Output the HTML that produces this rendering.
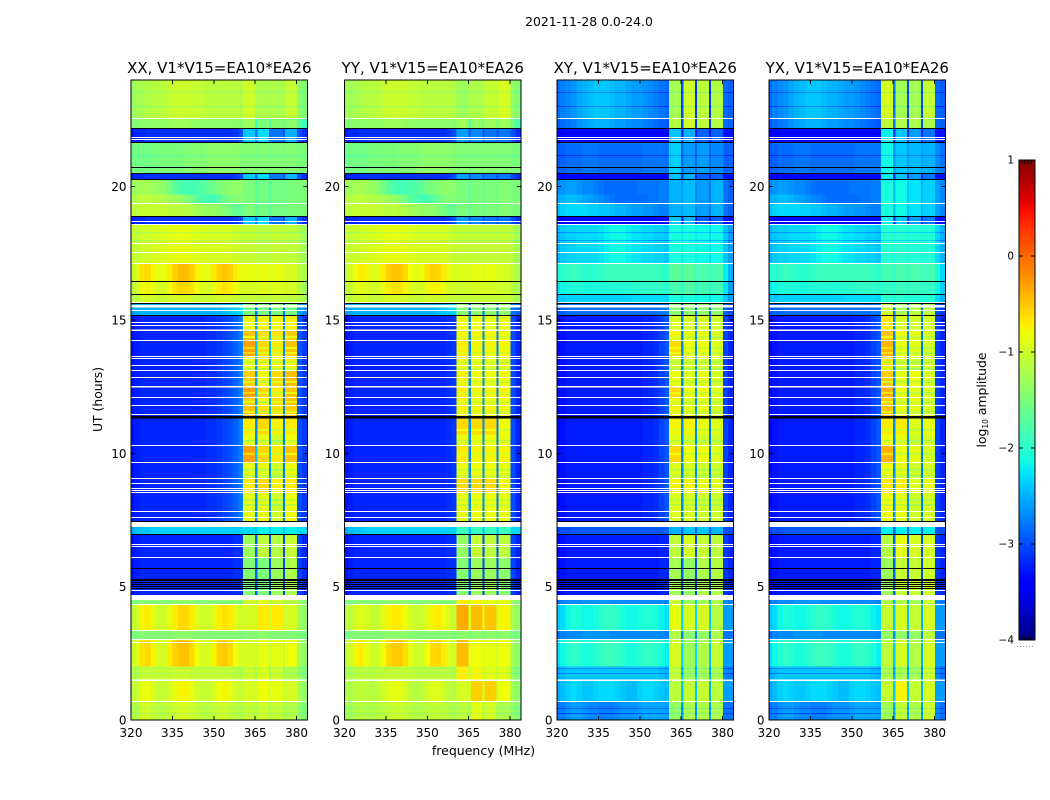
<!DOCTYPE html>
<html><head><meta charset="utf-8"><title>2021-11-28 0.0-24.0</title>
<style>html,body{margin:0;padding:0;background:#fff}svg{display:block}text{font-family:"DejaVu Sans","Liberation Sans",sans-serif;fill:#000}</style>
</head><body>
<svg id="fig" xmlns="http://www.w3.org/2000/svg" width="1050" height="800" viewBox="0 0 1050 800">
<rect width="1050" height="800" fill="#fff"/>
<text x="589" y="26" font-size="12.4" text-anchor="middle">2021-11-28 0.0-24.0</text>
<text x="483.500" y="755" font-size="12.5" text-anchor="middle">frequency (MHz)</text>
<text transform="translate(102,399.500) rotate(-90)" font-size="12.4" text-anchor="middle">UT (hours)</text>
<text transform="translate(986,400) rotate(-90)" font-size="12.4" text-anchor="middle">log<tspan font-size="7.500" dy="2">10</tspan><tspan dy="-2"> amplitude</tspan></text>
<g id="plots"></g>
<g id="cbar"></g>
</svg>
<script>
// ---- axis tick labels ----
const freqTicks = [320, 335, 350, 365, 380];
const hourTicks = [0, 5, 10, 15, 20];
const colorbarTicks = [1, 0, -1, -2, -3, -4];

// ---- frequency cell edges (MHz) ----
const lowFreqEdges = [320,321,323,325,327,329,331,333,335,337,339,341,343,345,347,349,351,353,355,357,359,360.6];
const highFreqEdges = [360.6,365,365.8,370.1,370.8,375.1,375.8,380.1,382,384];

// ---- time cell edges (hours) and which spectrum each band uses ----
const bandEdges = [24,22.55,22.18,21.67,20.72,20.5,20.28,19.7,19.36,18.89,18.6,17.12,16.45,15.96,15.66,15.17,14.62,14.24,13.62,13.09,12.5,12.1,11.79,11.35,10.7,10.28,9.66,9.05,8.52,7.83,7.24,6.97,6.09,4.5,4.34,3.36,3.01,2,1.5,0.7,0];
const bandLow  = [0,1,2,3,3,2,4,5,6,2,7,8,9,10,11,12,12,12,12,12,12,12,12,12,12,12,12,12,12,12,14,13,13,19,15,19,16,20,17,18];
const bandHigh = [0,1,2,3,3,2,4,4,4,2,5,6,7,5,8,9,10,11,9,12,11,12,10,13,14,11,14,13,14,14,15,16,17,20,18,21,19,20,22,23];

// ---- spectra below 360.6 MHz, log10 amplitude, co-polar (XX) ----
const xxLow = [
[-1.32,-1.27,-1.22,-1.17,-1.17,-1.12,-1.12,-1.07,-1.02,-1.02,-1.02,-1.02,-1.07,-1.07,-1.12,-1.12,-1.12,-1.12,-1.12,-1.12,-1.17],
[-1.45,-1.45,-1.4,-1.4,-1.4,-1.35,-1.35,-1.35,-1.3,-1.3,-1.3,-1.35,-1.35,-1.4,-1.4,-1.4,-1.4,-1.4,-1.4,-1.4,-1.45],
[-3.25,-3.2,-3.2,-3.15,-3.15,-3.15,-3.15,-3.15,-3.15,-3.15,-3.15,-3.15,-3.15,-3.15,-3.15,-3.15,-3.15,-3.15,-3.15,-3.1,-3.0],
[-1.6,-1.55,-1.55,-1.55,-1.55,-1.5,-1.5,-1.5,-1.5,-1.5,-1.45,-1.45,-1.45,-1.45,-1.4,-1.4,-1.4,-1.4,-1.4,-1.4,-1.45],
[-1.35,-1.3,-1.25,-1.25,-1.3,-1.35,-1.4,-1.55,-1.7,-1.8,-1.85,-1.85,-1.8,-1.75,-1.65,-1.55,-1.5,-1.45,-1.4,-1.4,-1.4],
[-1.2,-1.15,-1.1,-1.1,-1.15,-1.15,-1.2,-1.25,-1.3,-1.35,-1.45,-1.55,-1.7,-1.8,-1.85,-1.85,-1.75,-1.6,-1.5,-1.45,-1.45],
[-1.15,-1.1,-1.05,-1.05,-1.05,-1.05,-1.05,-1.1,-1.1,-1.1,-1.15,-1.2,-1.25,-1.3,-1.35,-1.35,-1.4,-1.45,-1.55,-1.65,-1.65],
[-1.1,-1.05,-1,-1,-0.95,-0.95,-0.9,-0.9,-0.85,-0.85,-0.85,-0.9,-0.9,-0.95,-0.95,-0.95,-0.95,-0.95,-0.95,-1,-1.05],
[-1.1,-0.9,-0.65,-0.6,-0.75,-0.85,-0.85,-0.7,-0.55,-0.45,-0.45,-0.55,-0.7,-0.85,-0.85,-0.7,-0.55,-0.5,-0.55,-0.7,-0.85],
[-1.15,-1,-0.8,-0.75,-0.85,-0.95,-0.95,-0.8,-0.65,-0.6,-0.6,-0.65,-0.8,-0.9,-0.95,-0.85,-0.7,-0.65,-0.7,-0.8,-0.95],
[-1.15,-1.1,-1,-0.95,-1,-1.05,-1.05,-1,-0.95,-0.95,-0.95,-1,-1.05,-1.05,-1.05,-1,-1,-1,-1,-1.05,-1.1],
[-2.6,-2.55,-2.5,-2.5,-2.5,-2.5,-2.5,-2.5,-2.5,-2.5,-2.5,-2.5,-2.5,-2.5,-2.5,-2.5,-2.5,-2.45,-2.4,-2.35,-2.3],
[-3.3,-3.25,-3.2,-3.2,-3.2,-3.2,-3.2,-3.2,-3.2,-3.2,-3.2,-3.2,-3.2,-3.2,-3.15,-3.15,-3.1,-3.05,-3,-2.9,-2.75],
[-3.3,-3.25,-3.2,-3.2,-3.2,-3.2,-3.2,-3.2,-3.2,-3.2,-3.2,-3.2,-3.2,-3.2,-3.2,-3.2,-3.2,-3.2,-3.2,-3.15,-3.15],
[-2.55,-2.45,-2.4,-2.4,-2.35,-2.35,-2.35,-2.35,-2.35,-2.35,-2.35,-2.35,-2.35,-2.35,-2.35,-2.35,-2.35,-2.35,-2.35,-2.35,-2.35],
[-1.15,-1,-0.75,-0.7,-0.85,-1,-1,-0.85,-0.7,-0.6,-0.6,-0.7,-0.9,-1,-1,-0.9,-0.7,-0.65,-0.7,-0.9,-1],
[-1.1,-0.9,-0.65,-0.6,-0.75,-0.95,-0.95,-0.7,-0.55,-0.48,-0.48,-0.6,-0.8,-0.95,-0.95,-0.75,-0.55,-0.52,-0.6,-0.8,-0.95],
[-1.15,-1.05,-0.85,-0.8,-0.95,-1.05,-1.05,-0.95,-0.85,-0.75,-0.75,-0.85,-1,-1.05,-1.05,-0.95,-0.8,-0.75,-0.85,-1,-1.05],
[-1.2,-1.15,-1,-0.95,-1.05,-1.1,-1.1,-1.05,-1,-0.95,-0.95,-1,-1.05,-1.1,-1.1,-1.05,-1,-1,-1.05,-1.1,-1.15],
[-1.55,-1.5,-1.45,-1.45,-1.45,-1.45,-1.45,-1.45,-1.4,-1.4,-1.4,-1.4,-1.45,-1.45,-1.45,-1.45,-1.45,-1.45,-1.45,-1.45,-1.5],
[-1.2,-1.15,-1.05,-1.05,-1.05,-1.05,-1.05,-1.05,-1,-1,-1,-1.05,-1.05,-1.05,-1.05,-1.05,-1.05,-1.05,-1.05,-1.1,-1.15]
];

// ---- spectra below 360.6 MHz, co-polar (YY) ----
const yyLow = [
[-1.32,-1.27,-1.22,-1.17,-1.17,-1.12,-1.12,-1.07,-1.02,-1.02,-1.02,-1.02,-1.07,-1.07,-1.12,-1.12,-1.12,-1.12,-1.12,-1.12,-1.17],
[-1.45,-1.45,-1.4,-1.4,-1.4,-1.35,-1.35,-1.35,-1.3,-1.3,-1.3,-1.35,-1.35,-1.4,-1.4,-1.4,-1.4,-1.4,-1.4,-1.4,-1.45],
[-3.25,-3.2,-3.2,-3.15,-3.15,-3.15,-3.15,-3.15,-3.15,-3.15,-3.15,-3.15,-3.15,-3.15,-3.15,-3.15,-3.15,-3.15,-3.15,-3.1,-3.0],
[-1.6,-1.55,-1.55,-1.55,-1.55,-1.5,-1.5,-1.5,-1.5,-1.5,-1.45,-1.45,-1.45,-1.45,-1.4,-1.4,-1.4,-1.4,-1.4,-1.4,-1.45],
[-1.35,-1.3,-1.25,-1.25,-1.3,-1.35,-1.4,-1.55,-1.7,-1.8,-1.85,-1.85,-1.8,-1.75,-1.65,-1.55,-1.5,-1.45,-1.4,-1.4,-1.4],
[-1.2,-1.15,-1.1,-1.1,-1.15,-1.15,-1.2,-1.25,-1.3,-1.35,-1.45,-1.55,-1.7,-1.8,-1.85,-1.85,-1.75,-1.6,-1.5,-1.45,-1.45],
[-1.15,-1.1,-1.05,-1.05,-1.05,-1.05,-1.05,-1.1,-1.1,-1.1,-1.15,-1.2,-1.25,-1.3,-1.35,-1.35,-1.4,-1.45,-1.55,-1.65,-1.65],
[-1.1,-1.05,-1,-1,-0.95,-0.95,-0.9,-0.9,-0.85,-0.85,-0.85,-0.9,-0.9,-0.95,-0.95,-0.95,-0.95,-0.95,-0.95,-1,-1.05],
[-1.15,-0.95,-0.8,-0.7,-0.75,-0.9,-0.85,-0.7,-0.55,-0.5,-0.5,-0.6,-0.8,-0.85,-0.8,-0.65,-0.55,-0.6,-0.7,-0.85,-0.95],
[-1.15,-1.05,-0.9,-0.85,-0.9,-1,-0.95,-0.85,-0.7,-0.65,-0.65,-0.75,-0.9,-0.95,-0.95,-0.85,-0.75,-0.75,-0.85,-0.95,-1],
[-1.15,-1.1,-1,-1,-1,-1.05,-1.05,-1,-0.95,-0.95,-0.95,-1,-1.05,-1.05,-1.05,-1,-1,-1,-1,-1.05,-1.1],
[-2.6,-2.55,-2.5,-2.5,-2.5,-2.5,-2.5,-2.5,-2.5,-2.5,-2.5,-2.5,-2.5,-2.5,-2.5,-2.5,-2.5,-2.45,-2.4,-2.35,-2.3],
[-3.3,-3.25,-3.2,-3.2,-3.2,-3.2,-3.2,-3.2,-3.2,-3.2,-3.2,-3.2,-3.2,-3.2,-3.2,-3.2,-3.2,-3.2,-3.2,-3.15,-3.1],
[-3.3,-3.25,-3.2,-3.2,-3.2,-3.2,-3.2,-3.2,-3.2,-3.2,-3.2,-3.2,-3.2,-3.2,-3.2,-3.2,-3.2,-3.2,-3.2,-3.15,-3.15],
[-2.55,-2.45,-2.4,-2.4,-2.35,-2.35,-2.35,-2.35,-2.35,-2.35,-2.35,-2.35,-2.35,-2.35,-2.35,-2.35,-2.35,-2.35,-2.35,-2.35,-2.35],
[-1.2,-1.1,-0.95,-0.9,-0.95,-1.05,-1.05,-0.9,-0.75,-0.7,-0.7,-0.8,-0.95,-1.05,-1,-0.9,-0.75,-0.7,-0.8,-0.95,-1.05],
[-1.15,-1,-0.75,-0.7,-0.85,-1,-1,-0.8,-0.6,-0.52,-0.52,-0.62,-0.85,-1,-1,-0.8,-0.6,-0.58,-0.7,-0.9,-1],
[-1.25,-1.2,-1.1,-1.1,-1.1,-1.15,-1.1,-1,-0.9,-0.85,-0.85,-0.95,-1.1,-1.15,-1.1,-1,-0.9,-0.9,-1,-1.1,-1.15],
[-1.3,-1.25,-1.15,-1.15,-1.15,-1.15,-1.15,-1.1,-1.05,-1,-1,-1.05,-1.1,-1.15,-1.15,-1.1,-1.05,-1.05,-1.1,-1.15,-1.2],
[-1.55,-1.5,-1.45,-1.45,-1.45,-1.45,-1.45,-1.45,-1.4,-1.4,-1.4,-1.4,-1.45,-1.45,-1.45,-1.45,-1.45,-1.45,-1.45,-1.45,-1.5],
[-1.25,-1.2,-1.1,-1.1,-1.1,-1.1,-1.1,-1.05,-1.05,-1.05,-1.05,-1.05,-1.05,-1.1,-1.1,-1.1,-1.1,-1.1,-1.1,-1.1,-1.15]
];

// ---- spectra below 360.6 MHz, cross-polar (XY and YX) ----
const crossLow = [
[-2.85,-2.75,-2.7,-2.65,-2.55,-2.5,-2.45,-2.4,-2.4,-2.4,-2.45,-2.5,-2.5,-2.55,-2.6,-2.6,-2.65,-2.7,-2.75,-2.8,-2.85],
[-2.95,-2.85,-2.8,-2.75,-2.65,-2.6,-2.55,-2.5,-2.5,-2.5,-2.55,-2.6,-2.6,-2.65,-2.7,-2.7,-2.75,-2.8,-2.85,-2.9,-2.95],
[-3.45,-3.4,-3.35,-3.35,-3.35,-3.35,-3.35,-3.35,-3.35,-3.35,-3.35,-3.35,-3.35,-3.35,-3.35,-3.35,-3.35,-3.35,-3.35,-3.35,-3.35],
[-2.95,-2.9,-2.85,-2.85,-2.85,-2.8,-2.8,-2.8,-2.85,-2.85,-2.85,-2.85,-2.85,-2.85,-2.85,-2.85,-2.8,-2.8,-2.8,-2.8,-2.8],
[-2.7,-2.65,-2.6,-2.6,-2.65,-2.7,-2.7,-2.75,-2.8,-2.85,-2.85,-2.85,-2.85,-2.85,-2.85,-2.8,-2.8,-2.8,-2.8,-2.75,-2.75],
[-2.55,-2.5,-2.45,-2.45,-2.5,-2.55,-2.6,-2.65,-2.7,-2.75,-2.8,-2.85,-2.85,-2.85,-2.85,-2.85,-2.85,-2.8,-2.8,-2.75,-2.75],
[-2.45,-2.35,-2.3,-2.3,-2.3,-2.3,-2.35,-2.35,-2.4,-2.4,-2.45,-2.5,-2.5,-2.55,-2.6,-2.6,-2.65,-2.65,-2.7,-2.75,-2.75],
[-2.5,-2.4,-2.35,-2.35,-2.3,-2.3,-2.3,-2.3,-2.25,-2.2,-2.15,-2.15,-2.15,-2.2,-2.25,-2.25,-2.3,-2.3,-2.35,-2.35,-2.4],
[-2.1,-2,-1.95,-1.9,-1.95,-2,-2,-2,-1.95,-1.9,-1.9,-1.9,-1.9,-1.9,-1.9,-1.9,-1.9,-1.9,-1.9,-1.95,-2],
[-2.25,-2.15,-2.1,-2.05,-2.05,-2.1,-2.1,-2.1,-2.05,-2.05,-2.05,-2.05,-2.05,-2.05,-2,-2,-1.95,-1.95,-1.95,-1.95,-2],
[-2.45,-2.4,-2.35,-2.35,-2.35,-2.35,-2.35,-2.35,-2.35,-2.35,-2.35,-2.35,-2.35,-2.35,-2.3,-2.3,-2.3,-2.3,-2.3,-2.3,-2.35],
[-2.95,-2.9,-2.85,-2.85,-2.85,-2.85,-2.85,-2.85,-2.85,-2.85,-2.85,-2.85,-2.85,-2.85,-2.85,-2.85,-2.85,-2.85,-2.85,-2.8,-2.8],
[-3.35,-3.3,-3.25,-3.25,-3.25,-3.25,-3.25,-3.25,-3.25,-3.25,-3.25,-3.25,-3.25,-3.25,-3.25,-3.25,-3.2,-3.2,-3.15,-3.05,-2.95],
[-3.35,-3.3,-3.25,-3.25,-3.25,-3.25,-3.25,-3.25,-3.25,-3.25,-3.25,-3.25,-3.25,-3.25,-3.25,-3.25,-3.25,-3.25,-3.25,-3.2,-3.2],
[-3.05,-3,-3,-2.95,-2.95,-2.95,-2.95,-2.95,-2.95,-2.95,-2.95,-2.95,-2.95,-2.95,-2.95,-2.95,-2.95,-2.95,-2.95,-2.95,-2.9],
[-2.4,-2.3,-2.15,-2.05,-2.1,-2.15,-2.15,-2.1,-2,-1.95,-1.95,-2,-2.1,-2.15,-2.15,-2.1,-2.05,-2.05,-2.1,-2.2,-2.25],
[-2.3,-2.15,-2.05,-1.95,-2,-2.1,-2.1,-2,-1.95,-1.9,-1.9,-1.95,-2,-2.1,-2.1,-2,-1.95,-1.95,-2,-2.1,-2.2],
[-2.55,-2.45,-2.35,-2.3,-2.35,-2.4,-2.4,-2.35,-2.3,-2.3,-2.3,-2.35,-2.4,-2.45,-2.45,-2.35,-2.3,-2.3,-2.35,-2.4,-2.45],
[-2.8,-2.75,-2.65,-2.6,-2.6,-2.65,-2.7,-2.7,-2.75,-2.75,-2.75,-2.7,-2.65,-2.65,-2.65,-2.6,-2.55,-2.55,-2.55,-2.55,-2.6],
[-2.85,-2.75,-2.7,-2.7,-2.7,-2.65,-2.65,-2.65,-2.65,-2.65,-2.7,-2.7,-2.7,-2.7,-2.7,-2.7,-2.7,-2.7,-2.7,-2.7,-2.75],
[-2.55,-2.45,-2.4,-2.4,-2.4,-2.4,-2.4,-2.4,-2.4,-2.4,-2.4,-2.4,-2.4,-2.4,-2.4,-2.4,-2.4,-2.4,-2.4,-2.45,-2.5]
];

// ---- spectra above 360.6 MHz: four sub-bands, three gaps, two edge columns ----
const xxHigh = [
[-1,-1.2,-1.2,-1.25,-1.2,-1.25,-1.05,-1.4,-1.45],
[-1.3,-1.9,-1.5,-1.7,-1.45,-1.6,-1.4,-1.7,-1.9],
[-2.4,-2.8,-2.3,-2.9,-2.8,-3,-2.5,-3,-3.15],
[-1.45,-1.5,-1.45,-1.5,-1.45,-1.5,-1.45,-1.5,-1.5],
[-1.5,-1.7,-1.55,-1.7,-1.55,-1.6,-1.5,-1.5,-1.5],
[-1.05,-1.1,-1.1,-1.1,-1.05,-1.1,-1.1,-1.15,-1.25],
[-0.85,-0.9,-0.85,-0.9,-0.85,-0.9,-0.95,-1.1,-1.2],
[-0.95,-1,-0.9,-1,-0.9,-1,-0.95,-1.15,-1.25],
[-1.5,-2.8,-1.5,-2.8,-1.5,-2.8,-1.5,-2.6,-2.7],
[-0.8,-2.6,-0.75,-2.6,-0.75,-2.7,-0.75,-2.95,-3.1],
[-0.5,-2.5,-0.65,-2.5,-0.65,-2.7,-0.55,-2.95,-3.1],
[-0.3,-2.4,-0.6,-2.5,-0.7,-2.7,-0.5,-2.95,-3.1],
[-0.55,-2.6,-0.8,-2.6,-0.6,-2.7,-0.45,-2.95,-3.1],
[-0.7,-2.7,-0.6,-2.7,-0.75,-2.8,-0.7,-3,-3.1],
[-0.85,-2.7,-0.85,-2.7,-1,-2.8,-0.8,-3,-3.1],
[-2.3,-2.4,-2.2,-2.4,-2.2,-2.4,-2.2,-2.3,-2.3],
[-1.3,-2.9,-1.1,-3,-1.15,-3,-1.05,-3.05,-3.2],
[-1.45,-2.9,-1.5,-3,-1.3,-3,-1.2,-3.05,-3.2],
[-0.95,-1,-0.7,-1,-0.7,-1.1,-0.95,-1.3,-1.35],
[-0.95,-1.05,-0.85,-1,-0.85,-1.1,-0.8,-1.25,-1.35],
[-1,-1.15,-0.9,-1.2,-1,-1.25,-1.15,-1.35,-1.45],
[-1.45,-1.5,-1.4,-1.5,-1.45,-1.5,-1.45,-1.5,-1.55],
[-0.95,-1.05,-0.8,-1,-0.85,-1.1,-0.95,-1.25,-1.35],
[-1.05,-1.15,-1,-1.2,-1.05,-1.25,-1.15,-1.35,-1.45]
];
const yyHigh = [
[-1.3,-1.2,-1.2,-1.2,-1.05,-1.1,-0.95,-1.35,-1.45],
[-1.3,-1.7,-1.35,-1.6,-1.3,-1.6,-1.3,-1.6,-1.8],
[-2.6,-2.9,-2.7,-3,-2.8,-3,-2.8,-3,-3.15],
[-1.45,-1.5,-1.45,-1.5,-1.45,-1.5,-1.45,-1.5,-1.5],
[-1.5,-1.65,-1.5,-1.65,-1.5,-1.6,-1.45,-1.5,-1.5],
[-1.05,-1.1,-1.05,-1.1,-1.05,-1.1,-1.05,-1.15,-1.25],
[-0.9,-0.95,-0.85,-0.95,-0.85,-0.95,-0.95,-1.1,-1.2],
[-1,-1,-0.95,-1,-0.95,-1,-1,-1.15,-1.25],
[-1.4,-2.8,-1.4,-2.8,-1.4,-2.8,-1.4,-2.8,-2.9],
[-0.8,-2.7,-0.8,-2.7,-0.85,-2.8,-0.85,-3,-3.2],
[-0.75,-2.7,-0.75,-2.7,-0.75,-2.8,-0.8,-3,-3.2],
[-0.7,-2.7,-0.75,-2.7,-0.75,-2.8,-0.75,-3,-3.2],
[-0.75,-2.7,-0.8,-2.7,-0.8,-2.8,-0.8,-3,-3.2],
[-0.6,-2.7,-0.6,-2.7,-0.6,-2.8,-0.8,-3,-3.2],
[-0.85,-2.7,-0.8,-2.7,-0.8,-2.8,-0.85,-3,-3.2],
[-1.9,-2.4,-1.9,-2.4,-1.9,-2.4,-1.9,-2.3,-2.3],
[-1.35,-2.9,-1.05,-3,-1.1,-3,-1.1,-3.05,-3.2],
[-1.45,-2.9,-1.3,-3,-1.3,-3,-1.4,-3.05,-3.2],
[-0.35,-0.9,-0.45,-0.9,-0.5,-1,-0.75,-1.25,-1.35],
[-0.45,-0.9,-0.8,-0.9,-0.85,-1,-0.8,-1.3,-1.4],
[-0.7,-1,-0.75,-1,-0.85,-1.05,-0.85,-1.35,-1.45],
[-1.4,-1.5,-1.4,-1.5,-1.4,-1.5,-1.4,-1.5,-1.55],
[-0.95,-1,-0.55,-1,-0.55,-1.05,-0.8,-1.3,-1.4],
[-1.1,-1.2,-0.85,-1.2,-0.95,-1.3,-1.2,-1.35,-1.45]
];
const xyHigh = [
[-1.25,-3,-1,-3.1,-1.1,-3.1,-1.15,-2.85,-2.9],
[-1.15,-3,-1,-3.1,-1.1,-3.1,-1.15,-2.85,-2.9],
[-2.4,-3.2,-2.5,-3.3,-2.9,-3.3,-2.9,-3.3,-3.3],
[-2.35,-2.9,-2.6,-2.9,-2.6,-2.9,-2.7,-2.9,-2.9],
[-2.5,-2.6,-2.45,-2.7,-2.6,-2.8,-2.5,-2.8,-2.9],
[-2.1,-2.2,-2.1,-2.2,-2.15,-2.3,-2.15,-2.4,-2.6],
[-1.7,-1.9,-1.7,-1.9,-1.8,-1.9,-1.8,-2.2,-2.5],
[-1.8,-2,-1.75,-2,-1.85,-2,-1.85,-2.25,-2.6],
[-1.4,-2.9,-1.4,-2.9,-1.4,-2.9,-1.4,-2.9,-3],
[-0.95,-2.7,-0.95,-2.7,-0.95,-2.8,-1,-3.05,-3.2],
[-0.75,-2.7,-0.85,-2.7,-0.85,-2.8,-0.95,-3.05,-3.2],
[-0.6,-2.7,-0.8,-2.7,-0.8,-2.8,-0.9,-3.05,-3.2],
[-0.8,-2.7,-0.9,-2.7,-0.85,-2.8,-0.95,-3.05,-3.2],
[-0.75,-2.7,-0.75,-2.7,-0.85,-2.8,-0.9,-3.05,-3.2],
[-0.9,-2.7,-0.95,-2.7,-1,-2.8,-1,-3.05,-3.2],
[-2.5,-2.9,-2.4,-2.9,-2.4,-2.9,-2.5,-3,-3],
[-1.1,-2.9,-0.95,-3,-1.05,-3,-1.1,-3.1,-3.2],
[-1.25,-2.9,-1.35,-3,-1.2,-3,-1.15,-3.1,-3.2],
[-0.85,-2.3,-0.95,-2.3,-0.95,-2.4,-1.15,-2.6,-2.6],
[-0.95,-2.3,-1.3,-2.3,-1.2,-2.4,-1.05,-2.6,-2.6],
[-1.05,-2.4,-1.3,-2.4,-1.25,-2.5,-1.2,-2.7,-2.75],
[-1.2,-2.7,-1.4,-2.7,-1.35,-2.7,-1.2,-2.8,-2.8],
[-1.1,-2.4,-1.05,-2.4,-1.05,-2.5,-1.1,-2.6,-2.6],
[-1.35,-2.6,-1.2,-2.6,-1.2,-2.6,-1.2,-2.8,-2.8]
];
const yxHigh = [
[-0.95,-2.8,-1.25,-3,-1.25,-3,-1.05,-2.85,-2.9],
[-1.1,-2.8,-1.2,-3,-1.2,-3,-1.2,-2.85,-2.9],
[-2.2,-3.1,-2.4,-3.2,-2.6,-3.2,-2.8,-3.3,-3.3],
[-2.15,-2.6,-2.4,-2.6,-2.45,-2.6,-2.5,-2.7,-2.8],
[-2.1,-2.4,-2.15,-2.4,-2.25,-2.5,-2.35,-2.6,-2.7],
[-2,-2.1,-2,-2.1,-2.05,-2.1,-2.05,-2.3,-2.5],
[-1.85,-1.95,-1.8,-1.95,-1.8,-1.95,-1.85,-2.1,-2.3],
[-1.95,-2,-1.9,-2,-1.9,-2,-1.95,-2.15,-2.35],
[-1,-2.8,-1.2,-2.8,-1.15,-2.8,-1.1,-3,-3.1],
[-0.7,-2.7,-0.95,-2.7,-1,-2.8,-0.95,-3.05,-3.2],
[-0.5,-2.7,-0.8,-2.7,-0.85,-2.8,-0.95,-3.05,-3.2],
[-0.4,-2.7,-0.8,-2.7,-0.85,-2.8,-0.95,-3.05,-3.2],
[-0.55,-2.7,-0.85,-2.7,-0.8,-2.8,-0.95,-3.05,-3.2],
[-0.7,-2.7,-0.7,-2.7,-0.9,-2.8,-0.85,-3.05,-3.2],
[-0.8,-2.7,-0.85,-2.7,-1,-2.8,-0.95,-3.05,-3.2],
[-2.2,-2.9,-2.2,-2.9,-2.2,-2.9,-2.2,-3,-3],
[-1.15,-2.9,-0.85,-3,-0.95,-3,-0.95,-3.1,-3.2],
[-1.3,-2.9,-1.05,-3,-1.05,-3,-1,-3.1,-3.2],
[-1.05,-2.4,-0.95,-2.4,-1.05,-2.5,-0.95,-2.6,-2.6],
[-1.1,-2.4,-0.95,-2.4,-1.15,-2.5,-0.95,-2.6,-2.6],
[-1.2,-2.5,-1.2,-2.5,-1.25,-2.6,-1,-2.7,-2.8],
[-1.35,-2.7,-1.35,-2.7,-1.35,-2.7,-1.1,-2.8,-2.8],
[-1.05,-2.4,-0.75,-2.4,-1.05,-2.5,-0.95,-2.6,-2.6],
[-1.25,-2.5,-1.05,-2.5,-1.2,-2.6,-1,-2.7,-2.8]
];

// ---- thin rows that read weaker than their neighbours (hours) ----
const dimRowHours = [23.55,23.02,21.2,18.3,18,1.95,1.76,0.45,0.26];
const brightStripeHours = [14.4,14,13.8,13.45,13.2,12.7,12.3,11.95,11.6,10.9,10.5,10,9.4,9.2,8.3,8.1];
const dimRowDelta = [-0.25,-0.25,-0.3,-0.3];
const brightStripeDelta = [-0.3,-0.2,-0.22,-0.25];

// ---- flagged time ranges (hours) ----
const whiteRows = [22.55,21.86,21.77,19.36,18.68,18.6,17.87,17.54,17.12,15.66,15.35,14.89,14.81,14.24,13.62,13.55,13.3,13.09,12.85,12.1,11.79,11.45,10.28,9.66,9.05,8.86,8.67,8.6,8.52,7.83,7.59,6.57,6.49,6.09,4.86,4.34,3.01,2.92,0.7];
const whiteBandStart = [15.56,14.65,12.53,7.42,4.68,3.38,1.52];
const whiteBandEnd = [15.46,14.59,12.46,7.24,4.5,3.33,1.47];
const blackRows = [22.18,21.67,20.72,20.5,20.28,18.89,16.45,15.96,15.61,15.17,7.46,6.97,5.69,5.27,5.22,5.15,5.09,4.99,4.94];
const blackBandStart = [11.4];
const blackBandEnd = [11.31];

// ---- colour map and axis functions ----
const NS = 'http://www.w3.org/2000/svg';
const VMIN = -4, VMAX = 1;
const AX_TOP = 80, AX_BOTTOM = 720, AX_W = 176.6;
const plots = document.getElementById('plots');
const cbar = document.getElementById('cbar');

function interp(t, pts) {
  if (t <= pts[0][0]) return pts[0][1];
  for (let i = 1; i < pts.length; i++) {
    if (t <= pts[i][0]) {
      const a = pts[i - 1], b = pts[i];
      return a[1] + (b[1] - a[1]) * (t - a[0]) / (b[0] - a[0]);
    }
  }
  return pts[pts.length - 1][1];
}
function jet(v) {
  const t = Math.max(0, Math.min(1, (v - VMIN) / (VMAX - VMIN)));
  const r = interp(t, [[0.35, 0], [0.66, 1], [0.89, 1], [1, 0.5]]);
  const g = interp(t, [[0.125, 0], [0.375, 1], [0.64, 1], [0.91, 0]]);
  const b = interp(t, [[0, 0.5], [0.11, 1], [0.34, 1], [0.65, 0]]);
  return 'rgb(' + Math.round(r * 255) + ',' + Math.round(g * 255) + ',' + Math.round(b * 255) + ')';
}
function hourY(h) { return AX_BOTTOM - h * (AX_BOTTOM - AX_TOP) / 24; }
function freqX(left, f) { return left + (f - 320) * AX_W / 64; }
function cbarY(v) { return 640 - (v - VMIN) * 96; }
function makeRect(parent, x, y, w, h, fill) {
  const el = document.createElementNS(NS, 'rect');
  el.setAttribute('x', x);
  el.setAttribute('y', y);
  el.setAttribute('width', w);
  el.setAttribute('height', h);
  el.setAttribute('fill', fill);
  el.setAttribute('shape-rendering', 'crispEdges');
  parent.appendChild(el);
  return el;
}
function makeLine(parent, x1, y1, x2, y2) {
  const el = document.createElementNS(NS, 'line');
  el.setAttribute('x1', x1);
  el.setAttribute('y1', y1);
  el.setAttribute('x2', x2);
  el.setAttribute('y2', y2);
  el.setAttribute('stroke', '#000');
  el.setAttribute('stroke-width', 1);
  el.setAttribute('shape-rendering', 'crispEdges');
  parent.appendChild(el);
  return el;
}
function makeText(parent, x, y, str, anchor, size) {
  const el = document.createElementNS(NS, 'text');
  el.setAttribute('x', x);
  el.setAttribute('y', y);
  el.setAttribute('text-anchor', anchor);
  el.setAttribute('font-size', size);
  el.textContent = str;
  parent.appendChild(el);
  return el;
}

const panelLeft = [131, 344.5, 557, 769];
const panelName = ['xx', 'yy', 'xy', 'yx'];
const panelTitle = ['XX, V1*V15=EA10*EA26', 'YY, V1*V15=EA10*EA26', 'XY, V1*V15=EA10*EA26', 'YX, V1*V15=EA10*EA26'];
const panelLow = [xxLow, yyLow, crossLow, crossLow];
const panelHigh = [xxHigh, yyHigh, xyHigh, yxHigh];

function spectrumAt(p, band) {
  return panelLow[p][bandLow[band]].concat(panelHigh[p][bandHigh[band]]);
}
function bandAtHour(h) {
  for (let b = 0; b < bandEdges.length - 1; b++) {
    if (h <= bandEdges[b] && h > bandEdges[b + 1]) return b;
  }
  return bandEdges.length - 2;
}

function drawPanel(p) {
  const left = panelLeft[p];
  const g = document.createElementNS(NS, 'g');
  
  
  plots.appendChild(g);
  const edges = lowFreqEdges.concat(highFreqEdges.slice(1));

  // heatmap cells
  for (let b = 0; b < bandEdges.length - 1; b++) {
    const spec = spectrumAt(p, b);
    const y0 = hourY(bandEdges[b]), y1 = hourY(bandEdges[b + 1]);
    for (let c = 0; c < edges.length - 1; c++) {
      const x0 = freqX(left, edges[c]), x1 = freqX(left, edges[c + 1]);
      const el = makeRect(g, x0, y0, x1 - x0, y1 - y0, jet(spec[c]));
      
      
    }
  }
  // dim rows across every frequency
  dimRowHours.forEach(function (h) {
    const spec = spectrumAt(p, bandAtHour(h));
    for (let c = 0; c < edges.length - 1; c++) {
      const x0 = freqX(left, edges[c]), x1 = freqX(left, edges[c + 1]);
      const el = makeRect(g, x0, Math.round(hourY(h)), x1 - x0, 1, jet(spec[c] + dimRowDelta[p]));
      
      
    }
  });
  // stripes in the four bright sub-bands
  brightStripeHours.forEach(function (h) {
    const spec = spectrumAt(p, bandAtHour(h));
    const low = lowFreqEdges.length - 1;
    [0, 2, 4, 6].forEach(function (k) {
      const x0 = freqX(left, highFreqEdges[k]), x1 = freqX(left, highFreqEdges[k + 1]);
      const el = makeRect(g, x0, Math.round(hourY(h)), x1 - x0, 2, jet(spec[low + k] + brightStripeDelta[p]));
      
      
    });
  });
  // flagged rows
  const fullX = left, fullW = AX_W;
  whiteRows.forEach(function (h) {
    const el = makeRect(g, fullX, Math.round(hourY(h) - 0.5), fullW, 1, '#fff');
    
    
  });
  whiteBandStart.forEach(function (h, i) {
    const el = makeRect(g, fullX, hourY(h), fullW, hourY(whiteBandEnd[i]) - hourY(h), '#fff');
    
    
  });
  blackRows.forEach(function (h) {
    const el = makeRect(g, fullX, Math.round(hourY(h) - 0.5), fullW, 1, '#000');
    
    
  });
  blackBandStart.forEach(function (h, i) {
    const el = makeRect(g, fullX, hourY(h), fullW, hourY(blackBandEnd[i]) - hourY(h), '#000');
    
    
  });

  // frame
  const frame = document.createElementNS(NS, 'rect');
  frame.setAttribute('x', left);
  frame.setAttribute('y', AX_TOP);
  frame.setAttribute('width', AX_W);
  frame.setAttribute('height', AX_BOTTOM - AX_TOP);
  frame.setAttribute('fill', 'none');
  frame.setAttribute('stroke', '#000');
  frame.setAttribute('shape-rendering', 'crispEdges');
  
  
  g.appendChild(frame);

  // ticks and labels
  freqTicks.forEach(function (f) {
    const x = freqX(left, f);
    const t1 = makeLine(g, x, AX_BOTTOM, x, AX_BOTTOM - 4);
    
    
    const t2 = makeLine(g, x, AX_TOP, x, AX_TOP + 4);
    
    
    const lab = makeText(g, x, AX_BOTTOM + 17, String(f), 'middle', 12);
    
    
  });
  hourTicks.forEach(function (h) {
    const y = hourY(h);
    const t1 = makeLine(g, left, y, left + 4, y);
    
    
    const t2 = makeLine(g, left + AX_W, y, left + AX_W - 4, y);
    
    
    const lab = makeText(g, left - 4.5, y + 4.500, String(h), 'end', 12);
    
    
  });
  const title = makeText(g, left + AX_W / 2, 73, panelTitle[p], 'middle', 15);
  
  
}

for (let p = 0; p < 4; p++) drawPanel(p);

// ---- colorbar ----
const CB_LEFT = 1019, CB_W = 16;
for (let i = 0; i < 240; i++) {
  const v = VMIN + (i + 0.5) * (VMAX - VMIN) / 240;
  const el = makeRect(cbar, CB_LEFT, cbarY(v) - 1.2, CB_W, 2.4, jet(v));
  
  
}
const cbFrame = document.createElementNS(NS, 'rect');
cbFrame.setAttribute('x', CB_LEFT);
cbFrame.setAttribute('y', 160);
cbFrame.setAttribute('width', CB_W);
cbFrame.setAttribute('height', 480);
cbFrame.setAttribute('fill', 'none');
cbFrame.setAttribute('stroke', '#000');
cbFrame.setAttribute('shape-rendering', 'crispEdges');


cbar.appendChild(cbFrame);
colorbarTicks.forEach(function (v) {
  const y = cbarY(v);
  const t1 = makeLine(cbar, CB_LEFT, y, CB_LEFT + 4, y);
  
  
  const t2 = makeLine(cbar, CB_LEFT + CB_W, y, CB_LEFT + CB_W - 4, y);
  
  
  const lab = makeText(cbar, CB_LEFT - 5, y + 3.500, String(v).replace('-', '\u2212'), 'end', 10.500);
  
  
});
[3, 6, 9, 12].forEach(function (dx) {
  const a = makeLine(cbar, CB_LEFT + dx, 160, CB_LEFT + dx, 164);
  
  
  const b = makeLine(cbar, CB_LEFT + dx, 640, CB_LEFT + dx, 636);
  
  
});
[-2, 1, 4, 7, 10, 13].forEach(function (dx) {
  const d = makeRect(cbar, CB_LEFT + dx, 646, 1, 1, '#999');
  
  
});
</script>
</body></html>
